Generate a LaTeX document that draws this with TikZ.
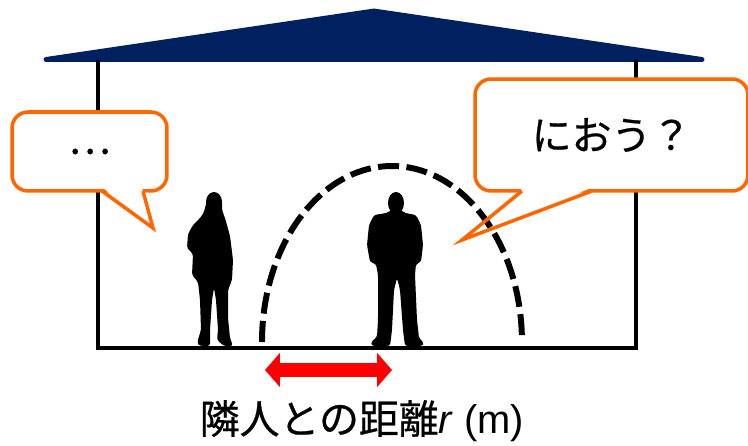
\documentclass[tikz,border=0pt]{standalone}
\usepackage{fontspec}
\setmainfont{Liberation Sans}
\newfontfamily\jp[FakeBold=0.6]{Noto Sans CJK JP}
\usetikzlibrary{arrows.meta}
\definecolor{roofblue}{RGB}{0,32,96}
\definecolor{talkorange}{RGB}{255,102,0}

\begin{document}
\begin{tikzpicture}[
            x=0.02cm, y=-0.02cm,
            wall/.style={draw, line width=2.5pt},
            bubble/.style={draw=talkorange, line width=2pt, fill=white,
                rounded corners=0.32cm, inner sep=0pt, outer sep=0pt,
                font=\jp\fontsize{22.7}{27}\selectfont},
            tail/.style={draw=talkorange, line width=2pt, line join=miter},
            person/.style={fill=black, rounded corners=1.5pt},
            reach/.style={draw, line width=3.4pt, dash pattern=on 12pt off 4.2pt},
            gaparrow/.style={draw=red, line width=7.5pt,
                {Triangle[length=8.5pt,width=19pt]}-{Triangle[length=8.5pt,width=19pt]}}
            ]
            \useasboundingbox (0,0) rectangle (748,446);

            % roof and walls
            \filldraw[roofblue, line width=2.8pt, line join=round]
                (46,59.5) -- (374,11) -- (702,59.5) -- cycle;
            \draw[wall] (98,60) -- (98,348) -- (636,348) -- (636,60);

            % the woman
            \fill (214,202) ellipse [x radius=0.16cm, y radius=0.2cm];
            \fill[person] (207,200) -- (204,212) -- (201,217) -- (193,225)
                -- (188,234) -- (187,248) -- (193,254) -- (192,275) -- (198,282)
                -- (200,300) -- (201,330) -- (197,343) -- (200,346) -- (210,346)
                -- (210,330) -- (212,300) -- (214,288) -- (216,300) -- (218,330)
                -- (217,340) -- (224,346) -- (233,346) -- (230,338) -- (228,318)
                -- (228,290) -- (232,280) -- (233,260) -- (230,236) -- (225,218)
                -- (222,210) -- (222,200) -- cycle;

            % the man
            \fill (396,203) ellipse [x radius=0.16cm, y radius=0.22cm];
            \fill[person] (391,210) -- (401,210) -- (405,213) -- (416,215)
                -- (421,225) -- (423,245) -- (421,262) -- (416,264) -- (415,275)
                -- (417,320) -- (419,338) -- (424,343) -- (422,346) -- (405,346)
                -- (403,330) -- (400,290) -- (397,278) -- (394,290) -- (392,330)
                -- (390,346) -- (372,346) -- (371,342) -- (377,337) -- (378,320)
                -- (378,275) -- (376,264) -- (370,262) -- (367,245) -- (369,225)
                -- (374,215) -- (387,213) -- cycle;

            % speech bubbles
            \node[bubble, minimum width=3.1cm, minimum height=1.58cm] (quiet)
                at (89.5,151.5) {…};
            \node[bubble, minimum width=5.46cm, minimum height=2.24cm] (smell)
                at (611.5,135) {におう？};
            \fill[white] (103,188) -- (153,228) -- (142,188) -- cycle;
            \fill[white] (523,188) -- (462,240) -- (591,188) -- cycle;

            % how far the smell reaches
            \draw[reach] (262,342) arc[start angle=180, end angle=0,
                x radius=2.6cm, y radius=3.52cm];

            \draw[tail] (102,191) -- (153,228) -- (143,191);
            \draw[tail] (522,191) -- (462,240) -- (592,191);

            % distance between the two
            \coordinate (gapL) at (265,370);
            \coordinate (gapR) at (392,370);
            \draw[gaparrow] (gapL) -- (gapR);
            \node[font=\fontsize{22.7}{27}\selectfont] (distlabel) at (362,421)
                {{\jp 隣人との距離}\textit{r} (m)};
\end{tikzpicture}
\end{document}
